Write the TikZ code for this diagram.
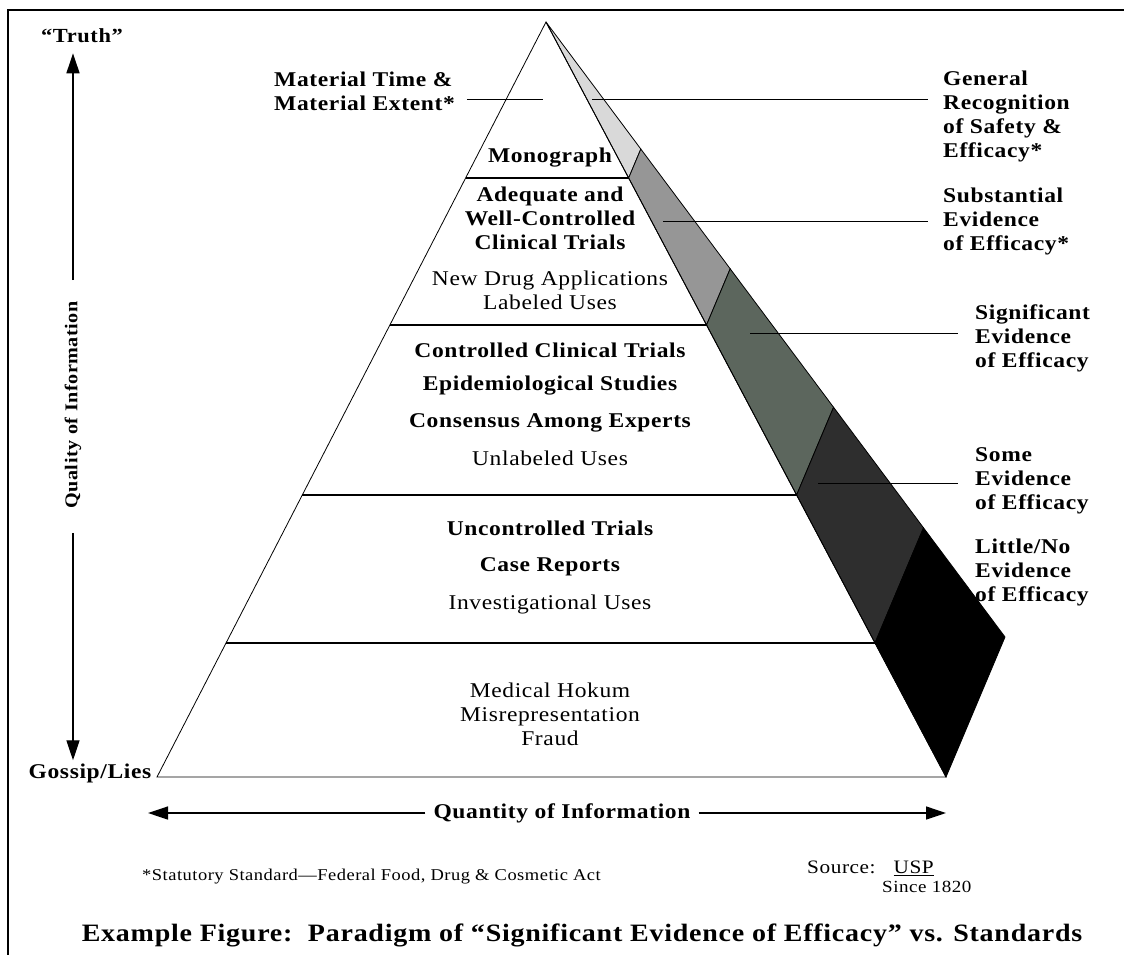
\documentclass[tikz,border=0pt]{standalone}
\usepackage{fontspec}
\setmainfont{Liberation Serif}[FakeStretch=1.12,LetterSpace=3]
\usetikzlibrary{arrows.meta,calc,positioning}
\definecolor{bandlight}{HTML}{D9D9D9}
\definecolor{bandmid}{HTML}{969696}
\definecolor{bandgreen}{HTML}{5C665D}
\definecolor{banddark}{HTML}{2E2E2E}

\tikzset{
  tier/.style={font=\bfseries\fontsize{21}{24}\selectfont, align=center, inner sep=0pt},
  tieruse/.style={font=\fontsize{21}{24}\selectfont, align=center, inner sep=0pt},
  sidelabel/.style={font=\bfseries\fontsize{21}{24}\selectfont, align=left, inner sep=0pt, anchor=west},
  axislabel/.style={font=\bfseries\fontsize{18}{22}\selectfont, inner sep=0pt},
  axisarrow/.style={line width=1.3pt, -{Triangle[length=20pt,width=13pt]}},
  leader/.style={line width=1pt}
}

\begin{document}
\begin{tikzpicture}[x=1pt,y=-1pt]
    \useasboundingbox (0,0) rectangle (1124,955);

    % Frame
    \draw[line width=2pt] (8,970) -- (8,10) -- (1140,10);

    % Pyramid corners
    \coordinate (apex) at (546,22);
    \coordinate (baseL) at (157,777);
    \coordinate (baseR) at (946,777);
    \coordinate (back) at (1005,637);

    % Side face bands
    \foreach \fa/\fb/\col in {0/0.2066/bandlight, 0.2066/0.4013/bandmid, 0.4013/0.6265/bandgreen, 0.6265/0.8225/banddark, 0.8225/1/black}
    {
        \filldraw[fill=\col, draw=black, line width=0.8pt]
            ($(apex)!\fa!(baseR)$) -- ($(apex)!\fb!(baseR)$) -- ($(apex)!\fb!(back)$) -- ($(apex)!\fa!(back)$) -- cycle;
    }

    % Front face and level lines
    \draw[line width=0.8pt] (apex) -- (baseL) -- (baseR) -- cycle;
    \foreach \f in {0.2066,0.4013,0.6265,0.8225}
    {
        \draw[line width=1.2pt] ($(apex)!\f!(baseL)$) -- ($(apex)!\f!(baseR)$);
    }

    % Tier texts
    \node[tier] (mono) at (550,158) {Monograph};
    \node[tier] (adequate) at (550,218) {Adequate and\\Well-Controlled\\Clinical Trials};
    \node[tieruse] (nda) at (550,290) {New Drug Applications\\Labeled Uses};
    \node[tier] (cct) at (550,350) {Controlled Clinical Trials};
    \node[tier] (epi) at (550,386) {Epidemiological Studies};
    \node[tier] (consensus) at (550,423) {Consensus Among Experts};
    \node[tieruse] (unlabeled) at (550,458) {Unlabeled Uses};
    \node[tier] (uct) at (550,528) {Uncontrolled Trials};
    \node[tier] (cases) at (550,567) {Case Reports};
    \node[tieruse] (invest) at (550,604) {Investigational Uses};
    \node[tieruse] (hokum) at (550,714) {Medical Hokum\\Misrepresentation\\Fraud};

    % Top-left label
    \node[sidelabel] (material) at (274,91) {Material Time \&\\Material Extent*};
    \coordinate (material in) at (543,100);
    \draw[leader] ([xshift=12pt]material.east |- material in) -- (material in);

    % Side labels with leaders
    \node[sidelabel] (gras) at (943,116) {General\\Recognition\\of Safety \&\\Efficacy*};
    \node[sidelabel] (substantial) at (943,221) {Substantial\\Evidence\\of Efficacy*};
    \node[sidelabel] (significant) at (975,338) {Significant\\Evidence\\of Efficacy};
    \node[sidelabel] (some) at (975,481) {Some\\Evidence\\of Efficacy};
    \node[sidelabel] (little) at (975,572) {Little/No\\Evidence\\of Efficacy};

    \coordinate (gras in) at (592,100);
    \coordinate (substantial in) at (663,221);
    \coordinate (significant in) at (750,333);
    \coordinate (some in) at (818,483);
    \coordinate (little in) at (945,573);
    \draw[leader] (gras in) -- ([xshift=-15pt]gras.west |- gras in);
    \draw[leader] (substantial in) -- ([xshift=-15pt]substantial.west |- substantial in);
    \draw[leader] (significant in) -- ([xshift=-17pt]significant.west |- significant in);
    \draw[leader] (some in) -- ([xshift=-17pt]some.west |- some in);
    \draw[leader] (little in) -- ([xshift=-17pt]little.west |- little in);

    % Quality axis
    \node[axislabel, font=\bfseries\fontsize{20}{24}\selectfont] (truth) at (82,36) {“Truth”};
    \node[axislabel, rotate=90] (quality) at (73,405) {Quality of Information};
    \node[axislabel, font=\bfseries\fontsize{21}{24}\selectfont] (gossip) at (90,773) {Gossip/Lies};
    \draw[axisarrow, shorten <=21pt, shorten >=10pt] (quality.east) -- (quality.east |- truth.south);
    \draw[axisarrow, shorten <=24pt, shorten >=3pt] (quality.west) -- (quality.west |- gossip.north);

    % Quantity axis
    \node[axislabel, font=\bfseries\fontsize{21}{24}\selectfont] (quantity) at (562,813) {Quantity of Information};
    \coordinate (qleft) at (148,813);
    \coordinate (qright) at (946,813);
    \draw[axisarrow, shorten <=8pt] (quantity.west) -- (qleft);
    \draw[axisarrow, shorten <=8pt] (quantity.east) -- (qright);

    % Notes and title
    \node[font=\fontsize{16.5}{18}\selectfont, anchor=west, inner sep=0pt] (statute) at (142,877) {*Statutory Standard—Federal Food, Drug \& Cosmetic Act};
    \node[font=\fontsize{19}{20}\selectfont, anchor=west, inner sep=0pt] (source) at (807,868) {Source:\hspace{18pt}\underline{USP}};
    \node[font=\fontsize{17}{18}\selectfont, anchor=west, inner sep=0pt] (since) at (882,887) {Since 1820};
    \node[font=\bfseries\fontsize{25}{30}\selectfont, inner sep=0pt] (title) at (582,935) {Example Figure:\ \ Paradigm of “Significant Evidence of Efficacy” vs. Standards};
\end{tikzpicture}
\end{document}
